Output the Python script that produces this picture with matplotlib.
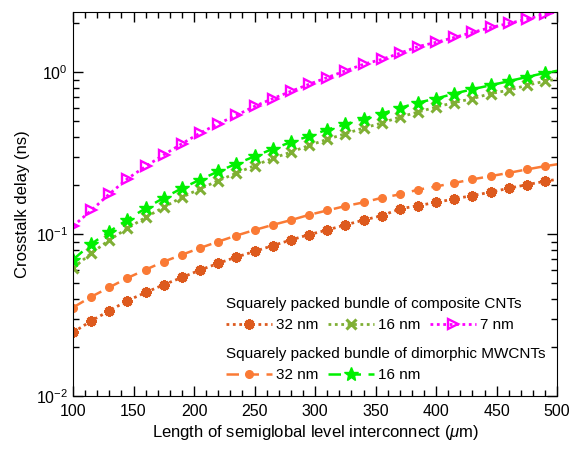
import numpy as np
import matplotlib
matplotlib.use("Agg")
import matplotlib.pyplot as plt

plt.rcParams['font.family'] = ['Liberation Sans', 'DejaVu Sans']
plt.rcParams['mathtext.fontset'] = 'custom'
plt.rcParams['mathtext.rm'] = 'Liberation Sans'
plt.rcParams['mathtext.it'] = 'Liberation Sans:italic'
plt.rcParams['font.size'] = 11.5

# interconnect length (um); markers at 100..490, line runs on to 500
length = [100, 115, 130, 145, 160, 175, 190, 205, 220, 235, 250, 265, 280, 295,
          310, 325, 340, 355, 370, 385, 400, 415, 430, 445, 460, 475, 490, 500]

# composite CNTs
comp_32 = [0.0247, 0.0291, 0.0336, 0.0388, 0.0436, 0.0487, 0.054, 0.060, 0.066,
           0.0722, 0.0782, 0.0849, 0.092, 0.0993, 0.106, 0.114, 0.122, 0.130,
           0.143, 0.150, 0.157, 0.165, 0.173, 0.1815, 0.192, 0.202, 0.212, 0.218]
comp_16 = [0.0618, 0.076, 0.092, 0.1086, 0.127, 0.1466, 0.169, 0.1905, 0.214,
           0.238, 0.265, 0.294, 0.321, 0.353, 0.385, 0.417, 0.452, 0.485,
           0.529, 0.567, 0.610, 0.649, 0.687, 0.738, 0.774, 0.831, 0.880, 0.91]
comp_7 = [0.112, 0.140, 0.177, 0.220, 0.262, 0.309, 0.362, 0.421, 0.481,
          0.542, 0.616, 0.687, 0.762, 0.843, 0.927, 1.02, 1.12, 1.20,
          1.31, 1.44, 1.53, 1.64, 1.76, 1.89, 2.00, 2.13, 2.28, 2.36]
# dimorphic MWCNTs
dimo_32 = [0.0352, 0.041, 0.0469, 0.0536, 0.0603, 0.0676, 0.0746, 0.0821, 0.0899,
           0.098, 0.106, 0.114, 0.122, 0.1315, 0.140, 0.149, 0.157, 0.1675,
           0.176, 0.188, 0.197, 0.207, 0.218, 0.228, 0.239, 0.251, 0.263, 0.27]
dimo_16 = [0.0695, 0.0869, 0.1036, 0.123, 0.1445, 0.1675, 0.192, 0.217, 0.244,
           0.272, 0.302, 0.336, 0.370, 0.403, 0.442, 0.476, 0.516, 0.555,
           0.601, 0.649, 0.687, 0.738, 0.785, 0.831, 0.880, 0.935, 0.99, 1.02]

nm_labels = ['32 nm', '16 nm', '7 nm']

fig = plt.figure(figsize=(5.75, 4.5), dpi=100)
ax = fig.add_axes([0.127, 0.12, 0.842, 0.853])

mk = slice(0, 27)
dot = (0, (1, 1.3))
dash = (0, (5, 3))

h1, = ax.plot(length, comp_32, color='#DD5A1E', ls=dot, lw=2, marker=(8, 2, 0),
              ms=7.5, mew=2.2, markevery=mk)
h2, = ax.plot(length, comp_16, color='#7FAF34', ls=dot, lw=2, marker='x',
              ms=6.5, mew=2.2, markevery=mk)
h3, = ax.plot(length, comp_7, color='#FF00FF', ls=dot, lw=2, marker='>',
              ms=7, mew=1.7, mfc='none', markevery=mk)
h4, = ax.plot(length, dimo_32, color='#FA7A35', ls=dash, lw=1.8, marker='o',
              ms=5.5, markevery=mk)
h5, = ax.plot(length, dimo_16, color='#00F000', ls=dash, lw=1.8, marker='*',
              ms=10, markevery=mk)

ax.set_yscale('log')
ax.set_xlim(100, 500)
ax.set_ylim(0.01, 2.35)
ax.set_xticks(np.arange(100, 501, 50))
ax.set_xticks(np.arange(100, 501, 10), minor=True)
ax.tick_params(which='both', direction='in', top=True, right=True, labelsize=11.5)
ax.tick_params(which='major', length=7, width=1)
ax.tick_params(which='minor', length=4, width=1)
ax.tick_params(axis='x', pad=6)

ax.set_xlabel(r'Length of semiglobal level interconnect ($\mu$m)', fontsize=12, labelpad=3)
ax.set_ylabel('Crosstalk delay (ns)', fontsize=12, labelpad=4)

leg1 = ax.legend([h1, h2, h3], nm_labels, title='Squarely packed bundle of composite CNTs',
                 ncol=3, frameon=False, loc='upper left', bbox_to_anchor=(0.30, 0.279),
                 handlelength=3.0, handletextpad=0.3, columnspacing=0.6,
                 alignment='left', borderpad=0, fontsize=11, title_fontsize=11)
ax.add_artist(leg1)
ax.legend([h4, h5], nm_labels[:2], title='Squarely packed bundle of dimorphic MWCNTs',
          ncol=2, frameon=False, loc='upper left', bbox_to_anchor=(0.30, 0.148),
          handlelength=3.0, handletextpad=0.3, columnspacing=0.6,
          alignment='left', borderpad=0, fontsize=11, title_fontsize=11)

fig.savefig('out.png', dpi=100)
